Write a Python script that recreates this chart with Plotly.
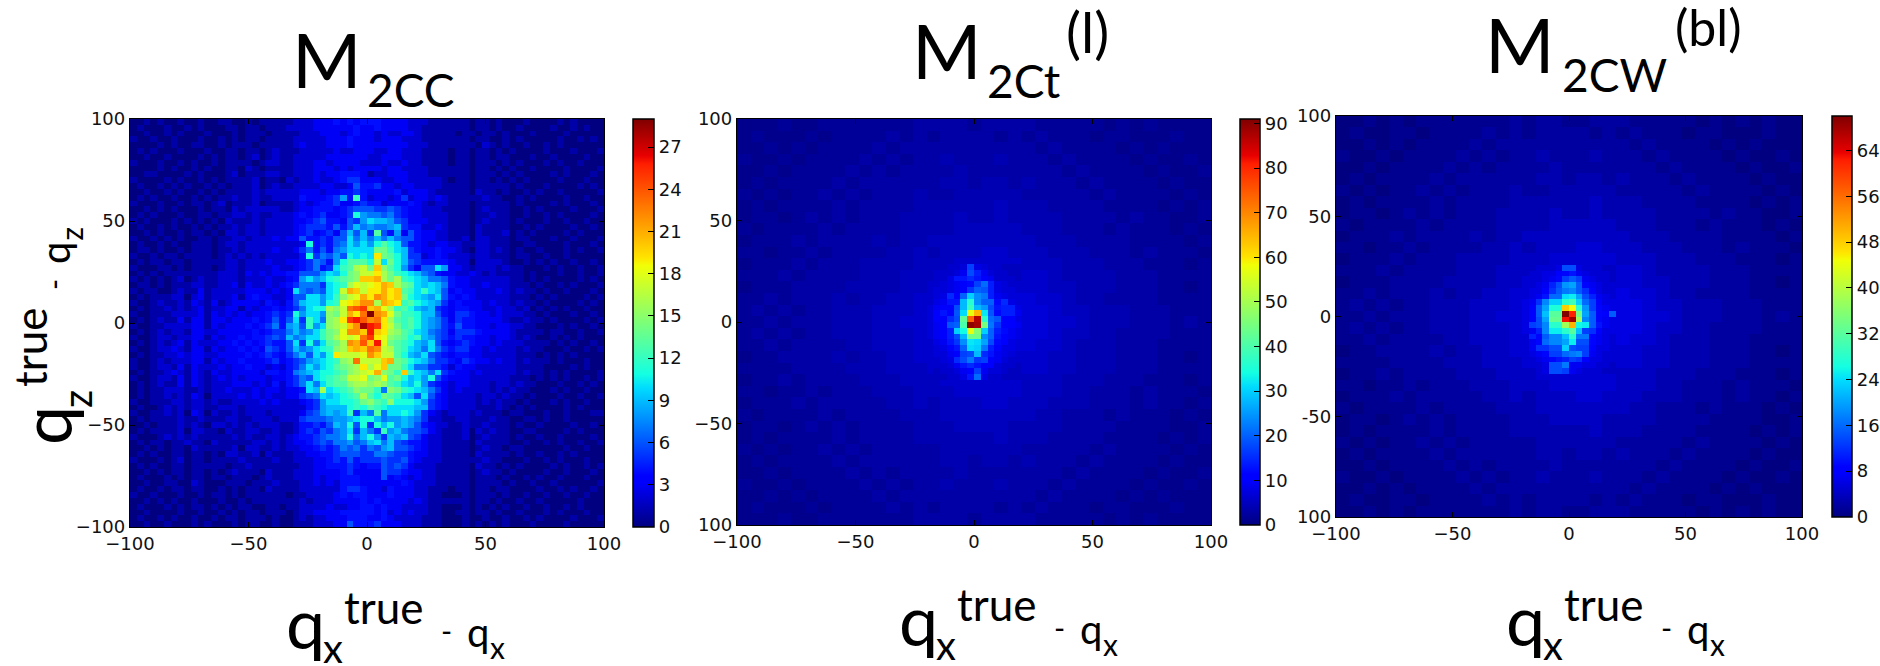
import sys
import numpy as np
import plotly.graph_objects as go

# ---- values (base-36 digit = counts per bin) ----
TICKS = [-100, -50, 0, 50, 100]
XTICK_TEXT = ["\u2212100", "\u221250", "0", "50", "100"]
YTICK_TEXT_1 = ["\u2212100", "\u221250", "0", "50", "100"]
YTICK_TEXT_2 = ["100", "\u221250", "0", "50", "100"]
YTICK_TEXT_3 = ["100", "-50", "0", "50", "100"]
CB_TICKS_1 = [0, 3, 6, 9, 12, 15, 18, 21, 24, 27]
CB_TICKS_2 = [0, 10, 20, 30, 40, 50, 60, 70, 80, 90]
CB_TICKS_3 = [0, 8, 16, 24, 32, 40, 48, 56, 64]
ZMAX = [29, 91, 70]

M2CC = [
"00101001001 00110010111 1122233343434 4433332221111 11011010001 00001010000",
"01000100101 00011011011 1222233333343 3433332211111 11011010010 00010010100",
"00100101000 10001011101 1112223332343 3232233211111 01101101000 10000100000",
"10010010001 00101011011 1122222333433 3233322211111 11011001010 00001001010",
"00001010011 00101110111 1123222333433 3333332221111 11102101001 00101000000",
"01010001000 10011011012 1112222232233 3223322211110 11011010100 00100010001",
"00100100001 01011012012 1122222333333 2233322211110 11011011000 10010000100",
"10001001010 01011110122 1122233233332 2232232211110 11011101010 00101001000",
"00001010010 10011021011 1122233323233 3323322221111 11011010100 10000100001",
"00110000101 00012011122 1122232334443 1223332221111 11011101010 00010100010",
"10000101001 01011112011 0212232234553 3322332222210 11011010101 00001000100",
"01001010100 10101112012 1122223322364 4533233222211 11011111010 00100001010",
"00100101001 01011112122 2223332334454 3333423332111 11021101001 01001000001",
"01010010010 10112112112 22243334584c4 2332352332321 11112110010 10000100100",
"10001001011 01201112011 1123234453345 4423334321221 11011111010 00010100010",
"00101010001 01102122222 1123344434566 6556543322211 11012111001 01000010001",
"01010001001 10112212112 22343453345b8 7767543322221 11011211001 00101000010",
"10100010101 01021112122 2233456443658 a998653332221 11012111010 00100100100",
"01001010010 10112122122 2234555464697 8778954422321 11021111001 01000010010",
"00101001011 01022122122 2234534536969 5d64836433221 11021112010 10000101000",
"10010101001 10112212223 2336445466a79 7979766433221 12022111011 00010010001",
"01001010011 10122122222 2223b45467a8a 8bdba64432332 21122111001 10000100010",
"01101001011 10112122223 2235746478aaa aeeca95433433 21022121010 01000101001",
"10010110111 10121212122 2224b57686bab ajedb95523432 22122111011 00100100000",
"01011011011 11122122232 233457648bddd bhaeb96544443 22022221001 01010010010",
"10001101011 10122122223 22345745acdgh ekfdb85366a83 32122212110 00101001001",
"01010111111 11222132323 3446668a9befh hjgecba97643 32232121111 01000100100",
"10101012012 11222122232 2348a89bcdefk klgegcba97764 33222222110 10100001010",
"01101011122 11223132232 3457775abcgih ijlkgeda9a974 33223222111 01001010001",
"10110012113 12222233323 23a7676abhlkh jjljkdcaca963 43322232121 10100100010",
"01011122023 12223134332 2366aa8acfhil jmljkeba98a64 34322222111 01010000101",
"10012112132 13123333243 2469aa8bcijkm mglkjcdba9853 43332322121 10100001010",
"01011212123 12233132334 3457abbgfhnop kligcdb989543 44332232212 01010100100",
"10011122223 13232323345 45b8aa8fehljn tmlieccb99643 55433232221 10100010010",
"01012113133 13323334346 46a5ca7fgjpqo mnjgdcdb98753 54433332112 11010000101",
"10011222233 13233343457 4896c8afghkms qpjhecdb98754 64433233221 10001010010",
"01012122133 22333334345 57978acefimmk qkjgfdca97653 55543333211 11011001001",
"10012212233 13233434456 5978aacegihin pjifedbc98654 54433233212 10010101000",
"01012123132 22334343454 46a5b7adegmlo kqiedcb98a643 45433232221 11101010010",
"10012232133 13233434365 4697 8abcfgklk nmhgdca97a754 55332322212 11000100101",
"01011223233 22333343454 3579 6a8bjhhhi mkhhdb98a6543 44332222211 10101010000",
"10012122233 13233433345 34568 9abcfgnhh hkledba975543 54332322121 11010001001",
"10012213132 22323343323 2457a8abdefgj gikeeca775542 43322222211 11000010100",
"01011232132 13223333244 3478 9abbcdfghi lfeckca97a543 32322222121 10101000010",
"10012213132 12323233323 34576abcdehhi efideb9a8b643 33222222111 01010100101",
"01012113132 12223332324 2457a7acddfgg fgfdca9b85432 33222122121 10001001010",
"01011222112 12232223233 2334a9gabcdfe ec7fecba97532 32222121211 00010100100",
"01011212132 02222323232 233567a9abcdg dbedca96a6432 22212212110 10001001001",
"10011122122 12112222323 2223458aabbce fdcfbbba85432 22212121101 00010100100",
"01001212122 11222122222 2222458999bcb dcbaaaa995432 22211121010 10000101000",
"10011212032 02112122212 2223568989c59 7d7aaba85321 22212111011 00010010001",
"01011112112 11122112221 2225666788 9ab b978898752211 22111211001 10100100000",
"00101112121 02212121222 11244546 98b6b 5b9b8986432 21 12112111010 01000010010",
"01011112022 11021122112 1124546578a59 75c897665321 1 12021211001 10000101000",
"10001212121 11112121122 1234456778b79 b859896532211 12012111010 01001000010",
"01011011211 02111112212 1233456577867 9a79654432211 11021111001 00101001001",
"00101011021 11112022112 1223345457675 768966543 2211 11012110110 00000100100",
"01010011011 01022112021 1122334456665 5776554332211 11021111010 01001010000",
"10001012011 01111211112 1122233454645 5565564322211 11112110001 00101000100",
"01010011011 11101121111 1112233444543 4465653222111 11021101010 00010100101",
"00101011011 01012111021 1122233334533 3365543322111 11012110100 00100100010",
"01000101011 01101110121 1122232334443 3363432322111 11011101001 01001000100",
"00100110021 00011101112 1112232324443 3333343222111 11011110100 10010000001",
"01001011011 00101011021 1112222224554 3324333221110 11011011000 01001010010",
"10010001001 01101011111 1011222234344 3334333221100 01011101001 00100100100",
"00101010010 00100101111 1112122233334 3433332321111 11011010010 01000001000",
"01000101011 01010110011 0112222322334 4343322221100 01010101001 00100101000",
"00100001001 00101011011 1012233334444 4342323221100 11011010010 00101000100",
"01001010010 01011011101 0012122333444 3343222211100 01001001001 01000010001",
"00100100010 10001011001 0011122233644 4533322211100 01010101000 10000100000",
]

M2CT_BG = [
"11121122222223333233332222212121111",
"12111212222323233332323222122111211",
"11212122223233333333332322221212111",
"21121222232323343334333232222121121",
"11212222323233334333333323222212112",
"12122223233333344344343332322221211",
"21212232323334334444433333232222121",
"12122223233334444445444333322221212",
"12212323233344445445444433332322112",
"21222232333344445555544433323222121",
"12223233334344555555554443333222212",
"22122323333445455566555444333232221",
"12223233344445556666655544433322212",
"22232333344455566777666544443332222",
"12223333444455667777766554443332212",
"22323334344556677888776654433332222",
"23232334445556778888877655444333222",
"22323334445566778888877665444333232",
"23232334445556778888877655443333222",
"22323333445556677888776654443332222",
"12233334344556677777766554443332212",
"22223333444555666777666554443332222",
"12232333344455566666655544433322212",
"22122323334445556666655544333232221",
"12223233333445455566555444333232212",
"21222232333344455555554433323222121",
"12212323233334445555444433332222112",
"12122223233334444445444333322221212",
"21212232323333344444433333232222121",
"12122223233333344344343332322221211",
"11212222323233334333333323222212112",
"21121222232323343334333232222121121",
"11212122223233333333332322221212111",
"12111212222323233332323222122111211",
"11121122222223333233332222212121111",
]
M2CT_CORE = [
[5,5,6,6,7,17,8,7,6,6,5,5,5],
[6,6,6,7,9,18,14,9,7,6,6,5,5],
[6,6,8,13,13,15,13,11,9,6,6,6,5],
[6,7,8,9,11,12,17,21,14,8,7,6,6],
[7,7,8,9,11,16,20,19,14,8,7,7,6],
[7,8,15,11,20,30,24,22,14,9,8,7,7],
[8,9,13,13,28,36,24,20,20,12,15,8,7],
[9,10,10,18,28,38,28,25,18,13,14,14,8],
[10,13,11,19,31,57,65,32,19,12,14,14,9],
[10,11,15,18,42,74,87,37,21,19,11,10,8],
[9,11,19,20,40,90,88,45,22,16,11,10,9],
[9,10,14,30,34,57,46,30,20,14,12,9,8],
[9,10,14,18,28,44,44,24,20,13,11,9,8],
[8,9,13,16,24,32,31,26,18,12,10,8,7],
[7,8,10,13,20,31,30,22,14,11,8,8,7],
[7,7,9,11,17,18,28,15,13,9,8,7,6],
[6,7,8,15,18,22,16,17,11,9,7,6,6],
[6,6,7,9,13,15,13,11,11,7,6,6,5],
[5,6,6,7,9,11,17,9,7,7,6,5,5],
[5,5,6,6,8,13,21,8,6,6,5,5,5],
]

M2CW_BG = [
"00101011111112122112221111101010100",
"01001101111212122221212111011000100",
"00101011112122222222221211110101000",
"10010111121212232223222121111010010",
"00101111212122223222222212111101001",
"01011112122222233233232221211110100",
"10101121212223223333322222121111010",
"01011112122223333334333222211110101",
"01101212122233334334333322221211001",
"10111121222233334444433322212111010",
"01112122223233444444443332222111101",
"11011212222334344455444333222121110",
"01112122233334445555544433322211101",
"11121222233344455666555433332221111",
"01112222333344556666655443332221101",
"11212223233445566777665543322221111",
"12121223334445667777766544333222111",
"11212223334455667777766554333222121",
"12121223334445667777766544332222111",
"11212222334445566777665543332221111",
"01122223233445566666655443332221101",
"11112222333444555666555443332221111",
"01121222233344455555544433322211101",
"11011212223334445555544433222121110",
"01112122222334344455444333222121101",
"10111121222233344444443322212111010",
"01101212122223334444333322221111001",
"01011112122223333334333222211110101",
"10101121212222233333322222121111010",
"01011112122222233233232221211110100",
"00101111212122223222222212111101001",
"10010111121212232223222121111010010",
"00101011112122222222221211110101000",
"01001101111212122221212111011000100",
"00101011111112122112221111101010100",
]
M2CW_CORE = [
[4,5,5,5,6,14,14,6,5,5,5,4,4],
[5,5,6,6,8,9,10,7,6,5,5,5,4],
[5,5,6,7,9,13,15,13,7,6,5,5,4],
[5,6,7,11,14,19,20,15,9,7,6,5,5],
[6,6,8,12,15,17,18,15,12,8,6,5,5],
[6,7,10,16,16,24,25,20,14,11,7,6,5],
[7,12,18,23,23,28,30,23,16,13,8,6,6],
[8,15,20,27,27,48,45,28,19,13,9,7,6],
[8,15,22,32,32,70,62,34,20,15,9,8,15],
[8,14,20,33,33,63,68,38,18,15,9,7,6],
[13,14,18,28,28,38,50,26,25,15,10,7,6],
[7,11,18,25,25,28,32,22,13,12,8,6,6],
[11,9,15,18,18,22,28,17,17,9,7,6,5],
[7,9,16,18,18,20,25,14,14,9,7,6,5],
[7,12,12,14,14,23,14,13,13,8,6,6,5],
[6,7,9,13,13,16,17,18,13,7,6,5,5],
[5,6,7,9,10,11,13,12,8,6,6,5,5],
[5,5,6,14,14,17,7,7,6,6,5,5,4],
[4,5,6,14,14,13,7,6,5,5,5,4,4],
]

BINS = 70
TITLE_FONT = "Lato"
TICK_FONT = "DejaVu Sans"

JET = [
    [0.00, "rgb(0,0,128)"], [0.11, "rgb(0,0,255)"], [0.125, "rgb(0,0,255)"],
    [0.34, "rgb(0,219,255)"], [0.375, "rgb(20,255,226)"], [0.50, "rgb(124,255,121)"],
    [0.64, "rgb(241,255,6)"], [0.66, "rgb(255,228,0)"], [0.89, "rgb(255,30,0)"],
    [0.91, "rgb(232,0,0)"], [1.00, "rgb(128,0,0)"],
]


def decode(rows, n):
    out = []
    for r in rows:
        s = r.replace(" ", "")
        if len(s) != n:
            print("row length", len(s), s, file=sys.stderr)
        out.append([int(c, 36) for c in s.ljust(n, "1")[:n]])
    return np.array(out, dtype=float)


z1 = decode(M2CC, BINS)
z2 = np.repeat(np.repeat(decode(M2CT_BG, 35), 2, axis=0), 2, axis=1)
z2[25:45, 29:42] = np.array(M2CT_CORE)
z3 = np.repeat(np.repeat(decode(M2CW_BG, 35), 2, axis=0), 2, axis=1)
z3[26:45, 29:42] = np.array(M2CW_CORE)

W, H = 1880, 666
PANELS = [
    dict(z=z1, box=(130, 604, 119, 527), cb=(633, 21, 119, 408), cbt=CB_TICKS_1, yt=YTICK_TEXT_1, zmax=ZMAX[0]),
    dict(z=z2, box=(737, 1211, 119, 525), cb=(1240, 20, 119, 406), cbt=CB_TICKS_2, yt=YTICK_TEXT_2, zmax=ZMAX[1]),
    dict(z=z3, box=(1336, 1802, 116, 517), cb=(1832, 20, 116, 401), cbt=CB_TICKS_3, yt=YTICK_TEXT_3, zmax=ZMAX[2]),
]

fig = go.Figure()
layout = dict(
    width=W, height=H, margin=dict(l=0, r=0, t=0, b=0, autoexpand=False), autosize=False,
    paper_bgcolor="white", plot_bgcolor="white", showlegend=False,
)
for i, p in enumerate(PANELS, start=1):
    l, r, t, b = p["box"]
    cx, cw, ct, cl = p["cb"]
    step = 200 / BINS
    fig.add_trace(go.Heatmap(
        z=p["z"], x0=-100 + step / 2, dx=step, y0=100 - step / 2, dy=-step,
        colorscale=JET, zmin=0, zmax=p["zmax"], zsmooth=False, hoverongaps=False,
        xaxis=f"x{i}", yaxis=f"y{i}",
        colorbar=dict(
            x=cx / W, xanchor="left", y=1 - ct / H, yanchor="top",
            lenmode="pixels", len=cl, thicknessmode="pixels", thickness=cw,
            xpad=0, ypad=0, outlinecolor="black", outlinewidth=1.5,
            tickmode="array", tickvals=p["cbt"], ticktext=[str(v) for v in p["cbt"]],
            ticks="inside", ticklen=6, tickwidth=1, tickcolor="black",
            tickfont=dict(family=TICK_FONT, size=18, color="#111"),
        ),
    ))
    common = dict(
        range=[-100, 100], showgrid=False, zeroline=False, showline=True, linecolor="black",
        linewidth=1.3, mirror="ticks", ticks="inside", ticklen=5, tickwidth=1, tickcolor="black",
        tickmode="array", tickvals=TICKS, tickfont=dict(family=TICK_FONT, size=18, color="#111"),
    )
    layout[f"xaxis{i}"] = dict(common, domain=[l / W, r / W], anchor=f"y{i}", ticktext=XTICK_TEXT)
    layout[f"yaxis{i}"] = dict(common, domain=[1 - b / H, 1 - t / H], anchor=f"x{i}", ticktext=p["yt"])


def label(text, x, y, size, angle=0):
    """x, y: pixel position of the start of the text on its baseline."""
    d = size * 0.25
    if angle == 0:
        fig.add_annotation(text=text, xref="paper", yref="paper", x=x / W, y=1 - (y + d) / H,
                           xanchor="left", yanchor="bottom", showarrow=False, borderpad=0,
                           font=dict(family=TITLE_FONT, size=size, color="black"))
    else:
        fig.add_annotation(text=text, xref="paper", yref="paper", x=(x + d) / W, y=1 - y / H,
                           xanchor="right", yanchor="bottom", textangle=-90, showarrow=False, borderpad=0,
                           font=dict(family=TITLE_FONT, size=size, color="black"))


# titles
label("M", 291, 86, 75)
label("2CC", 366, 107, 46)
label("M", 911, 77, 75)
label("2Ct", 986, 98, 46)
label("(l)", 1065, 52, 56)
label("M", 1484, 71, 75)
label("2CW", 1561, 92, 46)
label("(bl)", 1674, 46, 50)

# x labels
for dx, dy in [(0, 0), (613, -3), (1220, -3)]:
    label("q", 285 + dx, 647 + dy, 70)
    label("x", 322 + dx, 663 + dy, 40)
    label("true", 343 + dx, 623 + dy, 44)
    label("-", 440 + dx, 641 + dy, 30)
    label("q", 466 + dx, 647 + dy, 40)
    label("x", 489 + dx, 658 + dy, 30)

# y label
label("q", 70, 446, 70, 90)
label("z", 92, 409, 40, 90)
label("true", 46, 388, 44, 90)
label("-", 64, 291, 30, 90)
label("q", 70, 265, 40, 90)
label("z", 82, 242, 30, 90)

fig.update_layout(**layout)
fig.write_html("out.html", config={"displayModeBar": False},
               post_script="document.body.style.margin='0';")
